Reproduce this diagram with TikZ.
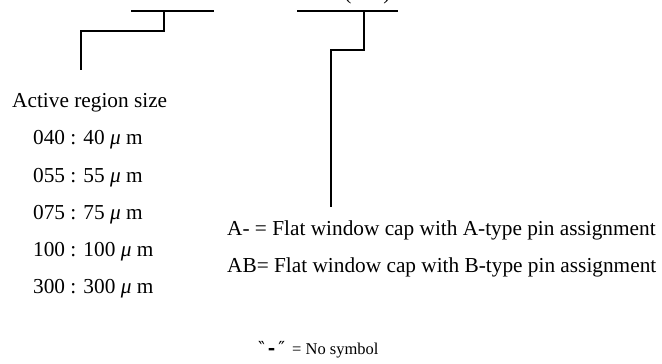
\documentclass[tikz,border=0pt]{standalone}
\usepackage{fontspec}
\setmainfont{Liberation Serif}
\newfontfamily\quotefont{DejaVu Serif}
\begin{document}
\begin{tikzpicture}[x=1pt,y=-1pt,
  lbl/.style={anchor=base west,inner sep=0pt,font=\fontsize{21.3}{24}\selectfont},
  small/.style={anchor=base west,inner sep=0pt,font=\fontsize{16.5}{19}\selectfont},
  conn/.style={draw=black,line width=1.3pt},
  bar/.style={draw=black,line width=1.3pt}]
\useasboundingbox (0,0) rectangle (662,364);
% field bars
\coordinate (barLa) at (131,11);
\coordinate (barLb) at (214,11);
\coordinate (barLm) at (164,11);
\coordinate (barRa) at (297,11);
\coordinate (barRb) at (398,11);
\coordinate (barRm) at (364,11);
\draw[bar] (barLa) -- (barLb);
\draw[bar] (barRa) -- (barRb);
% partial parentheses at top (only their lower ends are inside the picture)
\node[lbl,anchor=south] (parl) at (348,4) {(};
\node[lbl,anchor=south] (parr) at (387,4) {)};
% texts
\node[lbl] (size) at (12,107) {Active region size};
\node[lbl] (s040) at (33,144) {040 : 40 \textit{μ} m};
\node[lbl] (s055) at (33,182) {055 : 55 \textit{μ} m};
\node[lbl] (s075) at (33,219) {075 : 75 \textit{μ} m};
\node[lbl] (s100) at (33,256) {100 : 100 \textit{μ} m};
\node[lbl] (s300) at (33,293) {300 : 300 \textit{μ} m};
\node[lbl] (capA) at (227,235) {A- = Flat window cap with A-type pin assignment};
\node[lbl] (capB) at (227,272) {AB= Flat window cap with B-type pin assignment};
\node[small] (nosym) at (258,354) {{\quotefont\fontsize{18}{20}\selectfont ‶\,\textbf{-}\,″}\hspace{3pt} = No symbol};
% connector ends
\coordinate (endL) at (81,70);
\coordinate (endR) at (331,207);
\draw[conn] (barLm) -- (164,31) -- (81,31) -- (endL);
\draw[conn] (barRm) -- (364,50) -- (331,50) -- (endR);
\end{tikzpicture}
\end{document}
